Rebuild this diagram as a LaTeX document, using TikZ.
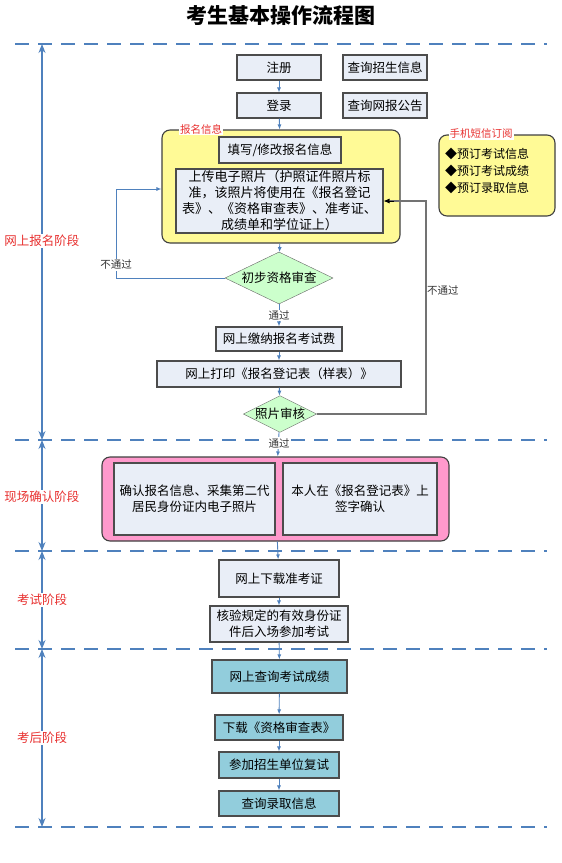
\documentclass[tikz,border=0pt]{standalone}
\usepackage{fontspec}
\setmainfont{Noto Sans CJK SC}
\usepackage{tikz}
\usetikzlibrary{shapes.geometric,arrows.meta,positioning,calc,shadows}

\definecolor{lineblue}{HTML}{4F81BD}
\definecolor{boxfill}{HTML}{E9EEF7}
\definecolor{notepad}{HTML}{FFFA96}
\definecolor{pinkpad}{HTML}{FF99CC}
\definecolor{tealfill}{HTML}{92CDDC}
\definecolor{checkfill}{HTML}{CCFFCC}
\definecolor{stagered}{HTML}{E8302F}

\begin{document}
\begin{tikzpicture}[x=1pt, y=-1pt,
  box/.style={draw=black!70, line width=1.1pt, fill=boxfill, align=center, inner sep=0pt,
    font=\fontsize{12.5}{16}\selectfont, drop shadow={shadow xshift=1pt, shadow yshift=-1pt, opacity=0.3}},
  tealbox/.style={box, fill=tealfill},
  padbox/.style={draw=black!75, line width=1.1pt, rounded corners=8pt},
  check/.style={diamond, aspect=2, draw=black!60, fill=checkfill, inner sep=0pt,
    font=\fontsize{12.5}{15}\selectfont},
  tag/.style={font=\fontsize{10.5}{12}\selectfont, text=stagered, fill=white, inner sep=1pt},
  stage/.style={font=\fontsize{12.5}{15}\selectfont, text=stagered, fill=white, inner sep=1pt},
  note/.style={font=\fontsize{10.5}{12}\selectfont, text=black!80, inner sep=1pt},
  sep/.style={lineblue, line width=2pt, dash pattern=on 14pt off 9pt},
  span/.style={lineblue, line width=1.2pt, {Stealth[length=9pt,width=7pt]}-{Stealth[length=9pt,width=7pt]}},
  flow/.style={lineblue, line width=0.9pt, -{Latex[length=5pt,width=4pt]}},
  >=Stealth
]
\useasboundingbox (0,0) rectangle (562,863);

% title
\node[font=\fontsize{21}{24}\selectfont\bfseries] (title) at (281,16) {考生基本操作流程图};

% stage separators, dashed across the page
\foreach \yy/\nm in {44/s0, 440/s1, 551/s2, 649/s3, 827/s4} {
  \draw[sep] (15,\yy) -- (547,\yy);
  \coordinate (\nm) at (42,\yy);
}
\draw[span] (s0) -- (s1);
\draw[span] (s1) -- (s2);
\draw[span] (s2) -- (s3);
\draw[span] (s3) -- (s4);
\node[stage] (st1) at (42,241) {网上报名阶段};
\node[stage] (st2) at (42,497) {现场确认阶段};
\node[stage] (st3) at (42,600) {考试阶段};
\node[stage] (st4) at (42,738) {考后阶段};

% -- online registration
\node[box, minimum width=84, minimum height=25] (reg) at (279,67.5) {注册};
\node[box, minimum width=84, minimum height=25] (qzs) at (385,67.5) {查询招生信息};
\node[box, minimum width=84, minimum height=25] (login) at (279,105.5) {登录};
\node[box, minimum width=84, minimum height=25] (qwb) at (385,105.5) {查询网报公告};

\node[padbox, fill=notepad, minimum width=238, minimum height=113] (info) at (281,186.5) {};
\node[tag, fill=white] (infotag) at (201,129) {报名信息};
\node[box, minimum width=122, minimum height=26] (fill) at (280,150) {填写/修改报名信息};
\node[box, minimum width=207, minimum height=64, font=\fontsize{13}{16}\selectfont] (photo) at (279.5,201)
  {上传电子照片（护照证件照片标\\准，该照片将使用在《报名登记\\表》、《资格审查表》、准考证、\\成绩单和学位证上）};

\node[padbox, fill=notepad, minimum width=116, minimum height=81] (sms) at (497,175.5) {};
\node[tag] (smstag) at (481,134) {手机短信订阅};
\node[font=\fontsize{12}{17}\selectfont, align=left, anchor=north west, inner sep=0pt] (smslist) at (445,148)
  {◆预订考试信息\\◆预订考试成绩\\◆预订录取信息};

\node[check, minimum width=108, minimum height=52] (first) at (279,278) {初步资格审查};
\node[box, minimum width=126, minimum height=24] (pay) at (279,339) {网上缴纳报名考试费};
\node[box, minimum width=244, minimum height=26] (print) at (279,374) {网上打印《报名登记表（样表）》};
\node[check] (pcheck) at (280,414) {照片审核};

% -- on-site confirmation
\node[padbox, fill=pinkpad, minimum width=347, minimum height=84] (site) at (275.5,499) {};
\node[box, minimum width=161, minimum height=72] (collect) at (194.5,499) {确认报名信息、采集第二代\\居民身份证内电子照片};
\node[box, minimum width=154, minimum height=72] (sign) at (360,499) {本人在《报名登记表》上\\签字确认};

% -- exam
\node[box, minimum width=120, minimum height=37] (ticket) at (279,578.5) {网上下载准考证};
\node[box, minimum width=138, minimum height=36] (verify) at (279,624) {核验规定的有效身份证\\件后入场参加考试};

% -- after exam
\node[tealbox, minimum width=135, minimum height=33] (score) at (279.5,676.5) {网上查询考试成绩};
\node[tealbox, minimum width=128, minimum height=25] (form) at (279,727.5) {下载《资格审查表》};
\node[tealbox, minimum width=120, minimum height=26] (retest) at (279,765) {参加招生单位复试};
\node[tealbox, minimum width=120, minimum height=25] (admit) at (279,803.5) {查询录取信息};

% main flow, top to bottom
\draw[flow] (reg) -- (login);
\draw[flow] (login) -- (info);
\draw[flow] (info) -- (first);
\draw[flow] (first) -- node[note, fill=white] (pass1) {通过} (pay);
\draw[flow] (pay) -- (print);
\draw[flow] (print) -- (pcheck);
\draw[flow] (pcheck) -- (site);
\node[note, fill=white] (pass2) at (279,443) {通过};
\draw[flow] (site) -- (ticket);
\draw[flow] (ticket) -- (verify);
\draw[flow] (verify) -- (score);
\draw[flow] (score) -- (form);
\draw[flow] (form) -- (retest);
\draw[flow] (retest) -- (admit);

% rejections loop back
\coordinate (lbend) at (116,189);
\draw[flow] (first.west) -| (lbend) -- (lbend -| info.west);
\node[note, fill=white] (fail1) at (116,265) {不通过};
\coordinate (rbend) at (426,201);
\draw[black!55, line width=1.4pt] (pcheck.east) -| (rbend) -- ($(photo.east)+(6,0)$);
\draw[black, line width=0.8pt, -{Latex[length=6pt,width=5pt]}] ($(photo.east)+(10,0)$) -- (photo.east);
\node[note, anchor=west] (fail2) at (426,291) {不通过};
\end{tikzpicture}
\end{document}
